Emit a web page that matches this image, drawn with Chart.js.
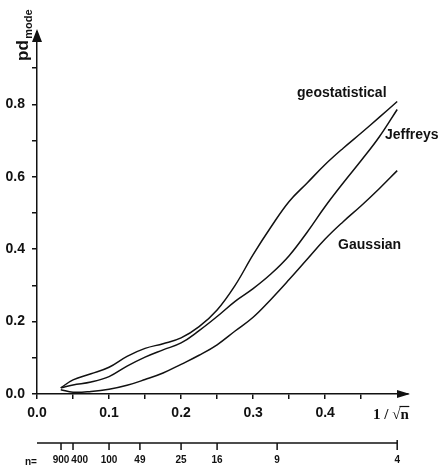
<!DOCTYPE html>
<html>
<head>
<meta charset="utf-8">
<script src="https://cdn.jsdelivr.net/npm/chart.js@4.4.1/dist/chart.umd.min.js"></script>
<style>
  html, body { margin: 0; padding: 0; background: #fff; }
  #wrap { width: 439px; height: 469px; position: relative; }
</style>
</head>
<body>
<div id="wrap"><canvas id="c"></canvas></div>
<script>
// 1/sqrt(n) sampling positions of the three curves
const xValues = [0.033, 0.05, 0.075, 0.1, 0.125, 0.15, 0.175, 0.2, 0.225, 0.25,
                 0.275, 0.3, 0.325, 0.35, 0.375, 0.4, 0.425, 0.45, 0.475, 0.5];
// pd_mode for each prior
const geostatistical = [0.017, 0.039, 0.056, 0.074, 0.104, 0.126, 0.139, 0.155, 0.186, 0.232,
                        0.300, 0.385, 0.462, 0.532, 0.583, 0.634, 0.679, 0.721, 0.764, 0.808];
const jeffreys = [0.017, 0.025, 0.033, 0.048, 0.077, 0.102, 0.122, 0.141, 0.175, 0.214,
                  0.256, 0.291, 0.332, 0.382, 0.447, 0.518, 0.583, 0.645, 0.710, 0.786];
const gaussian = [0.012, 0.005, 0.007, 0.013, 0.024, 0.040, 0.058, 0.082, 0.107, 0.136,
                  0.174, 0.212, 0.262, 0.316, 0.372, 0.428, 0.476, 0.520, 0.567, 0.617];
const seriesNames = ['geostatistical', 'Jeffreys', 'Gaussian'];

// axis ticks
const xTickValues = [0, 0.05, 0.1, 0.15, 0.2, 0.25, 0.3, 0.35, 0.4, 0.45];
const xTickLabels = ['0.0', '', '0.1', '', '0.2', '', '0.3', '', '0.4', ''];
const yTickValues = [0, 0.1, 0.2, 0.3, 0.4, 0.5, 0.6, 0.7, 0.8, 0.9];
const yTickLabels = ['0.0', '', '0.2', '', '0.4', '', '0.6', '', '0.8', ''];
// sample sizes marked on the lower scale (at 1/sqrt(n))
const sampleSizes = [900, 400, 100, 49, 25, 16, 9, 4];

const ink = '#111';
const sans = "'Liberation Sans', Arial, Helvetica, sans-serif";
const serif = "'Liberation Serif', 'Times New Roman', serif";

const series = [geostatistical, jeffreys, gaussian];

const annotate = {
  id: 'annotate',
  afterDraw(chart) {
    const { ctx, chartArea: a, scales: { x, y } } = chart;
    ctx.save();
    ctx.fillStyle = ink;
    ctx.strokeStyle = ink;

    // arrow heads on both axes
    ctx.beginPath();
    ctx.moveTo(a.left, a.top - 3);
    ctx.lineTo(a.left - 5, a.top + 10);
    ctx.lineTo(a.left + 5, a.top + 10);
    ctx.closePath();
    ctx.fill();
    ctx.beginPath();
    ctx.moveTo(a.right + 2, a.bottom);
    ctx.lineTo(a.right - 11, a.bottom - 4);
    ctx.lineTo(a.right - 11, a.bottom + 4);
    ctx.closePath();
    ctx.fill();

    // curve names
    ctx.font = 'bold 14px ' + sans;
    ctx.textAlign = 'left';
    ctx.textBaseline = 'middle';
    const namePos = [[0.361, 0.83], [0.483, 0.716], [0.418, 0.412]];
    seriesNames.forEach((name, i) => {
      ctx.fillText(name, x.getPixelForValue(namePos[i][0]), y.getPixelForValue(namePos[i][1]));
    });

    // y title: pd with subscript "mode", reading upwards
    ctx.save();
    ctx.translate(28, 61);
    ctx.rotate(-Math.PI / 2);
    ctx.textBaseline = 'alphabetic';
    ctx.font = 'bold 17px ' + sans;
    ctx.fillText('pd', 0, 0);
    const pw = ctx.measureText('pd').width;
    ctx.font = 'bold 11px ' + sans;
    ctx.fillText('mode', pw + 1.5, 4);
    ctx.restore();

    // x title: 1 / sqrt(n)
    ctx.textBaseline = 'alphabetic';
    ctx.font = 'bold 15px ' + serif;
    const tx = x.getPixelForValue(0.4665);
    const tb = a.bottom + 25;
    const lead = '1 / \u221A';
    ctx.fillText(lead + 'n', tx, tb);
    const lw = ctx.measureText(lead).width;
    const fw = ctx.measureText(lead + 'n').width;
    ctx.lineWidth = 1.2;
    ctx.beginPath();
    ctx.moveTo(tx + lw - 1, tb - 12.5);
    ctx.lineTo(tx + fw + 0.5, tb - 12.5);
    ctx.stroke();

    // lower scale of sample sizes
    const ly = a.bottom + 49;
    ctx.lineWidth = 1.5;
    ctx.beginPath();
    ctx.moveTo(x.getPixelForValue(0), ly);
    ctx.lineTo(x.getPixelForValue(0.5), ly);
    ctx.stroke();
    ctx.font = 'bold 10px ' + sans;
    ctx.textAlign = 'left';
    let prevRight = -Infinity;
    sampleSizes.forEach((n, i) => {
      const px = x.getPixelForValue(1 / Math.sqrt(n));
      ctx.beginPath();
      ctx.moveTo(px, i === sampleSizes.length - 1 ? ly - 3 : ly);
      ctx.lineTo(px, ly + 7);
      ctx.stroke();
      const label = String(n);
      const w = ctx.measureText(label).width;
      let left = px - w / 2;
      if (left < prevRight + 2) left = prevRight + 2;
      ctx.fillText(label, left, ly + 20);
      prevRight = left + w;
    });
    ctx.fillText('n=', 25, ly + 22);
    ctx.restore();
  }
};

new Chart(document.getElementById('c'), {
  type: 'scatter',
  data: {
    datasets: series.map((vals, i) => ({
      label: seriesNames[i],
      data: xValues.map((xv, j) => ({ x: xv, y: vals[j] })),
      showLine: true,
      borderColor: ink,
      borderWidth: 1.5,
      pointRadius: 0,
      fill: false,
      tension: 0.4
    }))
  },
  options: {
    responsive: true,
    maintainAspectRatio: false,
    animation: false,
    layout: { padding: { top: 32, right: 31, left: 0, bottom: 0 } },
    plugins: { legend: { display: false }, tooltip: { enabled: false } },
    scales: {
      x: {
        type: 'linear',
        min: 0,
        max: 0.515,
        afterBuildTicks: s => { s.ticks = xTickValues.map(v => ({ value: v })); },
        afterFit: s => { s.height = 75; },
        grid: { drawOnChartArea: false, drawTicks: true, tickLength: 5, color: ink, lineWidth: 1.5 },
        border: { display: true, color: ink, width: 1.5 },
        ticks: {
          autoSkip: false, maxRotation: 0, padding: 6, color: ink,
          font: { family: sans, size: 14, weight: 'bold' },
          callback: (v, i) => xTickLabels[i]
        }
      },
      y: {
        type: 'linear',
        min: 0,
        max: 1.0,
        afterBuildTicks: s => { s.ticks = yTickValues.map(v => ({ value: v })); },
        afterFit: s => { s.width = 37; },
        grid: { drawOnChartArea: false, drawTicks: true, tickLength: 5, color: ink, lineWidth: 1.5 },
        border: { display: true, color: ink, width: 1.5 },
        ticks: {
          autoSkip: false, padding: 7, color: ink,
          font: { family: sans, size: 14, weight: 'bold' },
          callback: (v, i) => yTickLabels[i]
        }
      }
    }
  },
  plugins: [annotate]
});
</script>
</body>
</html>
